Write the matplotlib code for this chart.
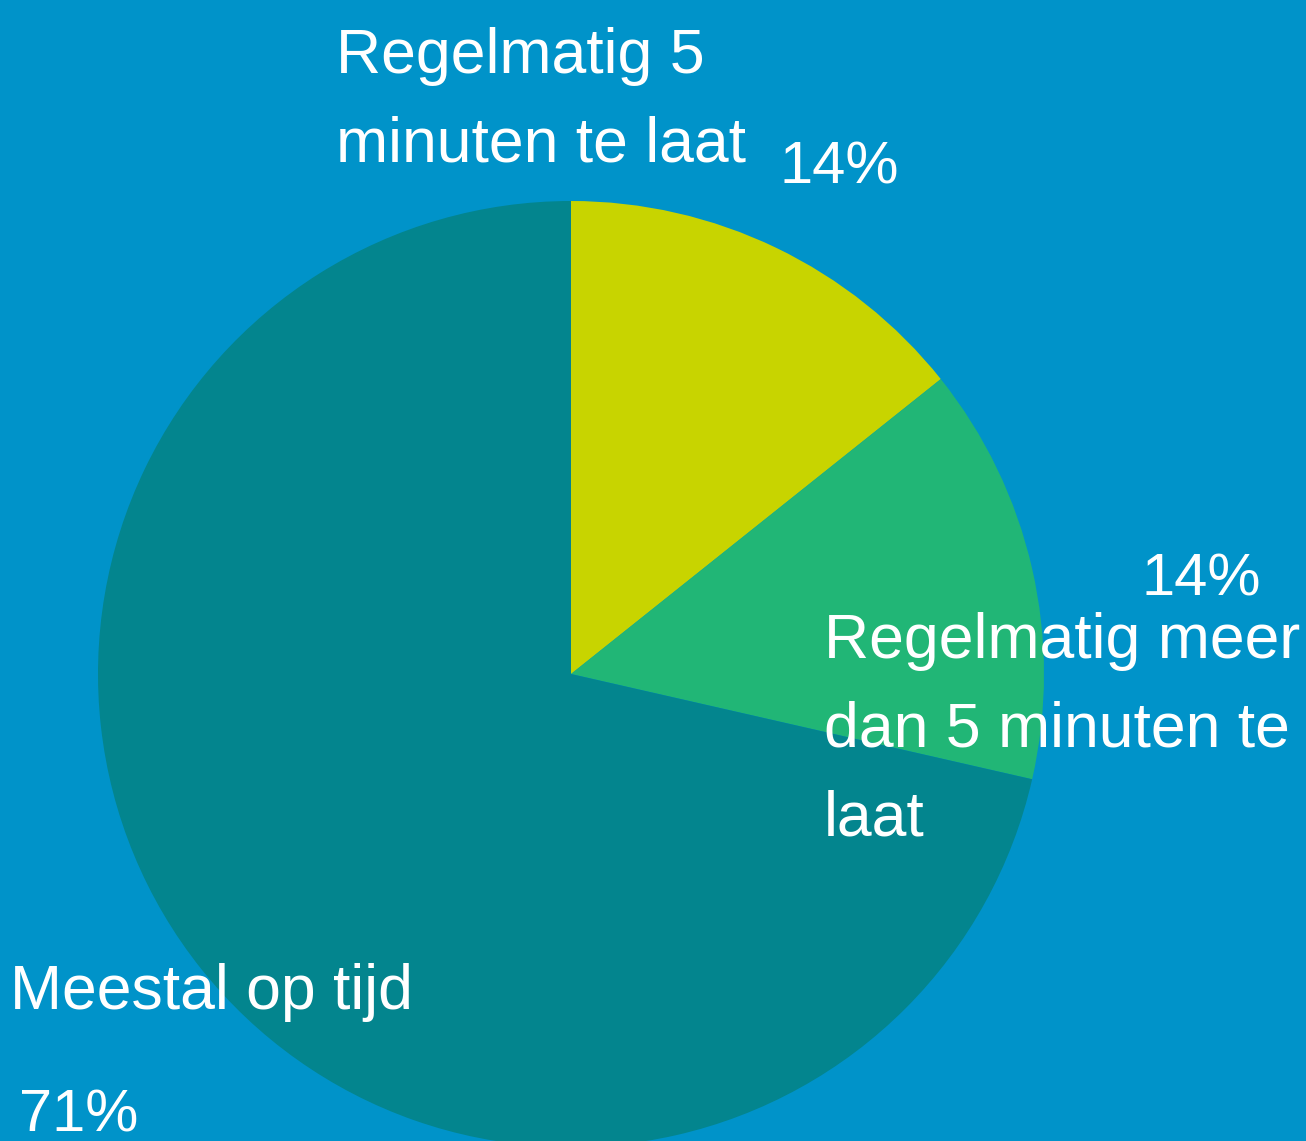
import matplotlib
matplotlib.use("Agg")
import matplotlib.pyplot as plt

# data
labels = ["Regelmatig 5\nminuten te laat",
          "Regelmatig meer\ndan 5 minuten te\nlaat",
          "Meestal op tijd"]
values = [1, 1, 5]
colors = ["#C8D400", "#21B676", "#03858E"]

BG = "#0093C9"
W, H = 1306, 1141
CENTER = (571, H - 674)
RADIUS = 473

# text anchors in pixels (left x, first-line baseline y from the top)
label_pos = [(336, 73), (824, 658), (10, 1009)]
pct_pos = [(780, 183), (1142, 595), (19, 1132)]
LINE_STEP = 88.5

plt.rcParams["font.family"] = ["Liberation Sans", "DejaVu Sans"]

fig = plt.figure(figsize=(W / 100, H / 100), dpi=100)
fig.patch.set_facecolor(BG)
ax = fig.add_axes([0, 0, 1, 1])
ax.set_facecolor(BG)

ax.pie(values, colors=colors, startangle=90, counterclock=False,
       center=CENTER, radius=RADIUS, wedgeprops=dict(linewidth=0))
ax.set_xlim(0, W)
ax.set_ylim(0, H)
ax.set_aspect("equal")
ax.axis("off")

total = sum(values)
for lab, (lx, ly), v, (px, py) in zip(labels, label_pos, values, pct_pos):
    for i, line in enumerate(lab.split("\n")):
        ax.text(lx, H - (ly + i * LINE_STEP), line, color="white",
                fontsize=45, ha="left", va="baseline")
    ax.text(px, H - py, f"{round(100 * v / total)}%", color="white",
            fontsize=43, ha="left", va="baseline")

fig.savefig("out.png", dpi=100, facecolor=BG)
